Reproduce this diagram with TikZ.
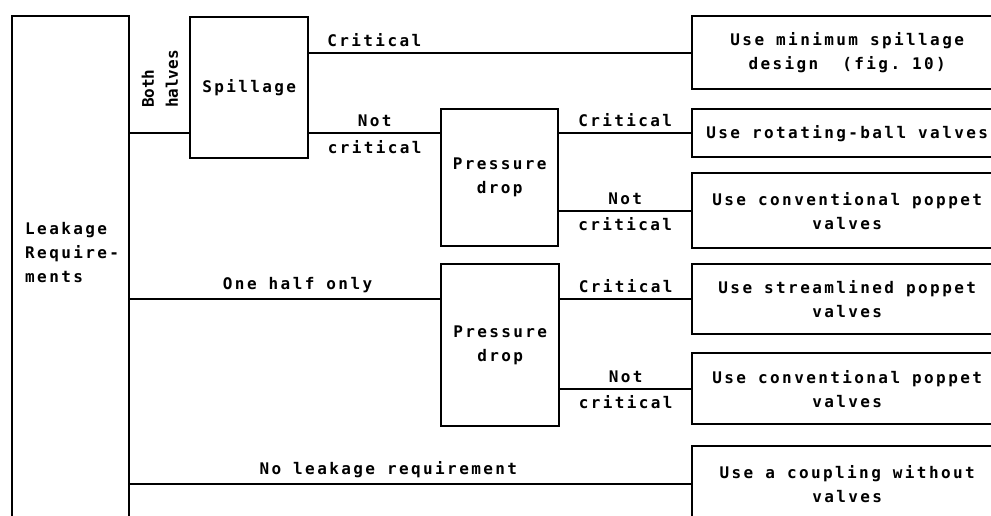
\documentclass[tikz,border=0pt]{standalone}
\usepackage{fontspec}
\newfontfamily\typefont{DejaVu Sans Mono Bold}[LetterSpace=15]
\newfontfamily\typefontnarrow{DejaVu Sans Mono Bold}
\usetikzlibrary{positioning}

\begin{document}
\begin{tikzpicture}[
  x=1pt,y=-1pt,
  line width=2.4pt,
  txt/.style={font=\typefont\fontsize{16}{24}\selectfont},
  vtxt/.style={font=\typefontnarrow\fontsize{16}{24}\selectfont},
  blk/.style 2 args={draw,line width=2.4pt,minimum width=#1,minimum height=#2,
                     inner sep=0pt,align=center,txt},
  rbox/.style={blk={310pt}{#1},anchor=north west},
  elbl/.style={txt,inner sep=2pt},
]
\useasboundingbox (0,0) rectangle (991,515);
\clip (0,0) rectangle (991,515);

%% ── Left column: leakage requirements ───────────────────────────────────────
\node[blk={117pt}{545pt},anchor=north west] (leak) at (11,15) {};
\node[txt,align=left,anchor=north west,inner sep=0pt] (leaklbl) at (24,221)
  {Leakage\\Require-\\ments};

%% ── Decision boxes ──────────────────────────────────────────────────────────
\node[blk={118pt}{141pt},anchor=north west] (spill) at (189,16) {Spillage};
\node[blk={117pt}{137pt},anchor=north west] (pd1) at (440,108) {Pressure\\drop};
\node[blk={118pt}{162pt},anchor=north west] (pd2) at (440,263) {Pressure\\drop};

%% ── Outcome boxes (run off the right edge) ──────────────────────────────────
\node[rbox={73pt}] (r1) at (691,15)  {Use minimum spillage\\design~~(fig.~10)};
\node[rbox={48pt}] (r2) at (691,108) {Use rotating-ball valves};
\node[rbox={75pt}] (r3) at (691,172) {Use conventional poppet\\valves};
\node[rbox={70pt}] (r4) at (691,263) {Use streamlined poppet\\valves};
\node[rbox={71pt}] (r5) at (691,352) {Use conventional poppet\\valves};
\node[rbox={75pt}] (r6) at (691,445) {Use a coupling without\\valves};

%% ── Connectors ──────────────────────────────────────────────────────────────
\draw (leak.east |- r2.west) -- (spill.west |- r2.west);
\node[vtxt,align=left,rotate=90,inner sep=0pt] (bothlbl) at (160,79) {Both\\halves};

\draw (spill.east |- r1.west) -- node[elbl,above=3pt,pos=.17] {Critical} (r1.west);
\draw (spill.east |- r2.west) -- node[elbl,above=3pt] {Not}
  node[elbl,below=4pt] {critical} (pd1.west |- r2.west);
\draw (pd1.east |- r2.west) -- node[elbl,above=3pt] {Critical} (r2.west);
\draw (pd1.east |- r3.west) -- node[elbl,above=3pt] {Not}
  node[elbl,below=4pt] {critical} (r3.west);

\draw (leak.east |- r4.west) -- node[elbl,above=3pt,pos=.54] {One half only} (pd2.west |- r4.west);
\draw (pd2.east |- r4.west) -- node[elbl,above=3pt] {Critical} (r4.west);
\draw (pd2.east |- r5.west) -- node[elbl,above=3pt] {Not}
  node[elbl,below=4pt] {critical} (r5.west);

\draw (leak.east |- r6.west) -- node[elbl,above=3pt,pos=.46] {No leakage requirement} (r6.west);

\end{tikzpicture}
\end{document}
